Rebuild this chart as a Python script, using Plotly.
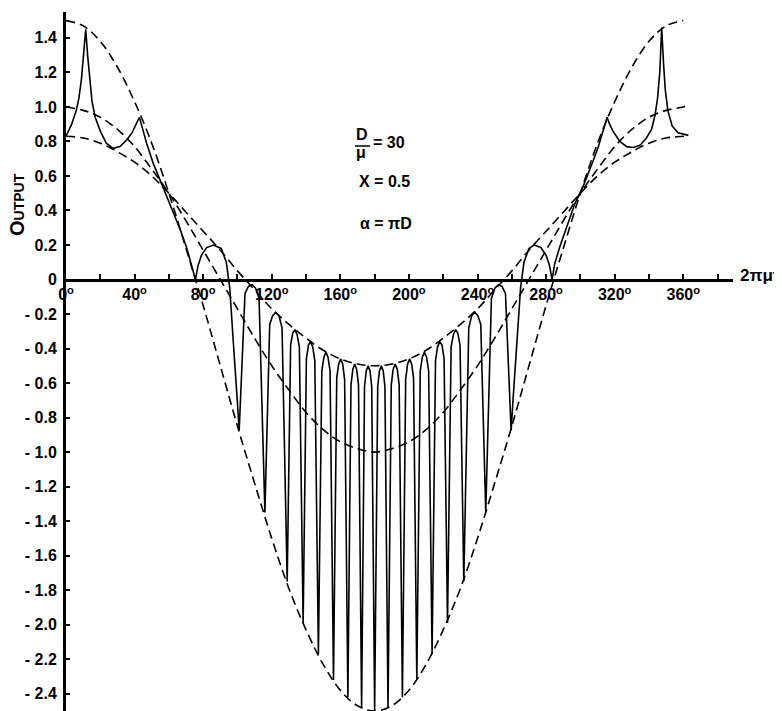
import plotly.graph_objects as go

# ---- data ----
ENV_DEG = [0, 10, 20, 30, 40, 50, 60, 70, 80, 90, 100, 110, 120, 130, 140, 150, 160, 170, 180,
           190, 200, 210, 220, 230, 240, 250, 260, 270, 280, 290, 300, 310, 320, 330, 340, 350, 360, 363]

# outer envelope (1.5 at 0 deg, -2.5 at 180 deg)
ENV_OUTER = [1.50, 1.47, 1.38, 1.23, 1.03, 0.79, 0.50, 0.18, -0.15, -0.50, -0.85, -1.18, -1.50,
             -1.79, -2.03, -2.23, -2.38, -2.47, -2.50, -2.47, -2.38, -2.23, -2.03, -1.79, -1.50,
             -1.18, -0.85, -0.50, -0.15, 0.18, 0.50, 0.79, 1.03, 1.23, 1.38, 1.47, 1.50, None]

# middle curve (1.0 at 0 deg, -1.0 at 180 deg)
ENV_MID = [1.00, 0.98, 0.94, 0.87, 0.77, 0.64, 0.50, 0.34, 0.17, 0.00, -0.17, -0.34, -0.50,
           -0.64, -0.77, -0.87, -0.94, -0.98, -1.00, -0.98, -0.94, -0.87, -0.77, -0.64, -0.50,
           -0.34, -0.17, 0.00, 0.17, 0.34, 0.50, 0.64, 0.77, 0.87, 0.94, 0.98, 1.00, 1.01]

# inner envelope (0.83 at 0 deg, -0.5 at 180 deg)
ENV_INNER = [0.83, 0.82, 0.79, 0.74, 0.68, 0.60, 0.50, 0.39, 0.28, 0.17, 0.05, -0.06, -0.17,
             -0.26, -0.34, -0.41, -0.46, -0.49, -0.50, -0.49, -0.46, -0.41, -0.34, -0.26, -0.17,
             -0.06, 0.05, 0.17, 0.28, 0.39, 0.50, 0.60, 0.68, 0.74, 0.79, 0.82, 0.83, 0.835]

# output curve, D/mu = 30
OUT_DEG = [
    0, 3.3, 6, 7.5, 9, 10.3, 11.5, 12.6, 13.8, 15.2, 17, 20, 23.5, 27.5, 31.5, 35.5, 38.5, 41, 42.8,
    44.5, 47, 51, 55, 59, 63, 67, 70.5, 73.5, 75.5,
    77, 79, 82, 86, 90.5, 93.5, 95.5, 97, 98.5, 99.9, 101,
    104.4, 106.4, 108.5, 110.6, 112.6, 116,
    118.8, 120.5, 122.3, 124.2, 126.0, 129,
    131.0, 132.2, 133.5, 134.8, 136.1, 138.3,
    140.2, 141.4, 142.6, 143.9, 145.1, 147.2,
    149.2, 150.4, 151.6, 152.8, 154.0, 156.0,
    157.9, 159.0, 160.2, 161.4, 162.5, 164.4,
    166.2, 167.3, 168.4, 169.5, 170.6, 172.4,
    174.1, 175.1, 176.2, 177.3, 178.3, 180.0,
    181.8, 182.8, 183.9, 185.0, 186.0, 187.8,
    189.7, 190.8, 192.0, 193.2, 194.3, 196.2,
    198.1, 199.2, 200.4, 201.6, 202.7, 204.6,
    206.6, 207.8, 209.0, 210.3, 211.5, 213.5,
    215.5, 216.7, 218.0, 219.3, 220.5, 222.5,
    224.6, 225.9, 227.2, 228.5, 229.8, 232.0,
    234.9, 236.6, 238.4, 240.2, 241.9, 244.8,
    248.1, 250.1, 252.2, 254.3, 256.3, 259.6,
    260.7, 262.1, 263.6, 265.1, 267.1, 270, 273, 277, 280, 282, 283.5,
    285, 288, 292, 296.8, 301.6, 305, 307.5, 310.5, 313.3, 315.6,
    317, 319, 323, 327, 331, 335, 338.5, 341.5, 343.5, 345, 346.3, 347.4, 348.5, 349.5, 351,
    353.5, 357, 363,
]
OUT_VAL = [
    0.83, 0.90, 0.98, 1.05, 1.16, 1.30, 1.45, 1.30, 1.15, 1.03, 0.94, 0.86, 0.79, 0.76, 0.77, 0.81,
    0.85, 0.90, 0.94,
    0.88, 0.79, 0.67, 0.57, 0.48, 0.38, 0.28, 0.18, 0.08, 0.0,
    0.08, 0.14, 0.185, 0.20, 0.18, 0.10, -0.05, -0.25, -0.50, -0.70, -0.875,
    -0.08, -0.04, -0.03, -0.05, -0.11, -1.35,
    -0.26, -0.21, -0.19, -0.21, -0.28, -1.75,
    -0.38, -0.31, -0.29, -0.32, -0.39, -1.99,
    -0.46, -0.38, -0.36, -0.39, -0.47, -2.17,
    -0.53, -0.45, -0.42, -0.45, -0.53, -2.32,
    -0.57, -0.49, -0.46, -0.49, -0.58, -2.42,
    -0.61, -0.52, -0.49, -0.52, -0.61, -2.48,
    -0.62, -0.53, -0.50, -0.53, -0.62, -2.50,
    -0.62, -0.53, -0.50, -0.53, -0.62, -2.48,
    -0.61, -0.52, -0.49, -0.52, -0.61, -2.42,
    -0.58, -0.49, -0.46, -0.49, -0.57, -2.32,
    -0.53, -0.45, -0.42, -0.45, -0.53, -2.17,
    -0.47, -0.39, -0.36, -0.38, -0.46, -1.99,
    -0.39, -0.32, -0.29, -0.31, -0.38, -1.75,
    -0.28, -0.21, -0.19, -0.21, -0.26, -1.35,
    -0.11, -0.05, -0.03, -0.04, -0.08, -0.875,
    -0.70, -0.50, -0.25, -0.05, 0.10, 0.18, 0.20, 0.185, 0.14, 0.08, 0.0,
    0.09, 0.19, 0.30, 0.44, 0.54, 0.62, 0.69, 0.77, 0.87, 0.94,
    0.90, 0.86, 0.80, 0.77, 0.765, 0.78, 0.82, 0.87, 0.95, 1.05, 1.20, 1.46, 1.25, 1.10, 0.98,
    0.89, 0.85, 0.835,
]

X_TICKS = [0, 40, 80, 120, 160, 200, 240, 280, 320, 360]
X_TICK_TEXT = ["0<sup>o</sup>", "40<sup>o</sup>", "80<sup>o</sup>", "120<sup>o</sup>",
               "160<sup>o</sup>", "200<sup>o</sup>", "240<sup>o</sup>", "280<sup>o</sup>",
               "320<sup>o</sup>", "360<sup>o</sup>"]
Y_TICKS = [1.4, 1.2, 1.0, 0.8, 0.6, 0.4, 0.2, 0, -0.2, -0.4, -0.6, -0.8, -1.0, -1.2, -1.4, -1.6,
           -1.8, -2.0, -2.2, -2.4]
Y_TICK_TEXT = ["1.4", "1.2", "1.0", "0.8", "0.6", "0.4", "0.2", "0", "- 0.2", "- 0.4", "- 0.6",
               "- 0.8", "- 1.0", "- 1.2", "- 1.4", "- 1.6", "- 1.8", "- 2.0", "- 2.2", "- 2.4"]

Y_MIN, Y_MAX = -2.50, 1.55
FONT = "Liberation Sans"
DASH = "9px,5px"
BODY = 8  # the html body margin shifts the figure by this many pixels

fig = go.Figure()
for vals in (ENV_OUTER, ENV_MID, ENV_INNER):
    fig.add_trace(go.Scatter(
        x=ENV_DEG, y=vals, mode="lines", showlegend=False,
        line=dict(color="black", width=1.6, dash=DASH, shape="spline"),
    ))
fig.add_trace(go.Scatter(
    x=OUT_DEG, y=OUT_VAL, mode="lines", showlegend=False,
    line=dict(color="black", width=1.6),
))

tick_font = dict(family=FONT, size=16, color="black", weight="bold")
fig.update_xaxes(
    range=[0, 389], anchor="free", position=(0 - Y_MIN) / (Y_MAX - Y_MIN), automargin=False,
    showline=True, linecolor="black", linewidth=2.5, showgrid=False, zeroline=False,
    ticks="inside", ticklen=5, tickwidth=1.5, tickcolor="black",
    tickvals=X_TICKS, ticktext=X_TICK_TEXT, tickfont=tick_font,
    minor=dict(ticks="inside", ticklen=5, tickwidth=1.5, tickcolor="black", tick0=0, dtick=20),
)
fig.update_yaxes(
    range=[Y_MIN, Y_MAX], automargin=False,
    showline=True, linecolor="black", linewidth=3, showgrid=False, zeroline=False,
    ticks="inside", ticklen=4, tickwidth=1.5, tickcolor="black",
    tickvals=Y_TICKS, ticktext=Y_TICK_TEXT, tickfont=tick_font, ticklabelstandoff=3,
)


def px(x, y):
    # pixel position in the 782x711 window -> paper coords
    return (x - 66) / 667, (711 - y) / 699


def label(text, x, y, size=16, anchor="left", angle=0):
    ax, ay = px(x, y)
    fig.add_annotation(
        text=text, x=ax, y=ay, xref="paper", yref="paper", showarrow=False,
        xanchor=anchor, yanchor="middle", textangle=angle,
        font=dict(family=FONT, size=size, color="black", weight="bold"),
    )


label("D", 362, 134, anchor="center")
label("μ", 361, 153, anchor="center")
label("= 30", 371, 142)
label("X = 0.5", 357, 181)
label("α = πD", 358, 223)
label("2πμt", 781, 275, size=17, anchor="right")
label("O<span style='font-size:14px'>UTPUT</span>", 17, 204, size=20, anchor="center", angle=-90)

bx0, by = px(355, 146)
bx1, _ = px(370, 146)
fig.add_shape(type="line", xref="paper", yref="paper", x0=bx0, x1=bx1, y0=by, y1=by,
              line=dict(color="black", width=1.5))

fig.update_layout(
    width=782 - BODY, height=711 - BODY,
    margin=dict(l=66 - BODY, r=49, t=12 - BODY, b=0, autoexpand=False),
    plot_bgcolor="white", paper_bgcolor="white",
    font=dict(family=FONT, color="black"),
)
fig.write_html("out.html")
